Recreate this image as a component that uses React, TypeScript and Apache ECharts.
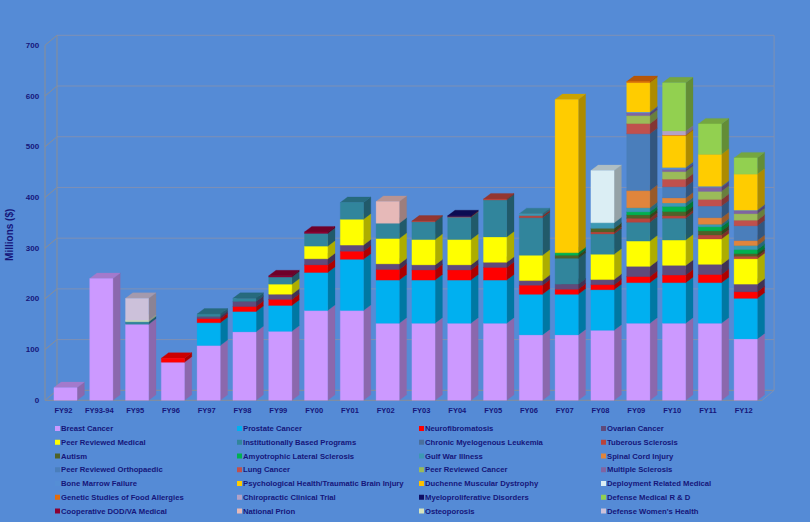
import React, { useEffect, useRef } from "react";
import * as echarts from "echarts";

const categories = ["FY92","FY93-94","FY95","FY96","FY97","FY98","FY99","FY00","FY01","FY02","FY03","FY04","FY05","FY06","FY07","FY08","FY09","FY10","FY11","FY12"];
const yTicks = [0,100,200,300,400,500,600,700];

const breast =    [25,240,150,75,108,135,136,177,177,152,152,152,152,129,129,138,152,152,152,121];
const prostate =  [0,0,0,0,45,40,51,75,101,85,85,85,85,80,80,80,80,80,80,80];
const neuro =     [0,0,0,8,8,10,12,15,16,21,20,20,25,18,10,10,12,15,16,13];
const ovarian =   [0,0,0,0,4,10,10,12,12,11,10,10,10,9,10,10,20,19,20,15];
const peerMed =   [0,0,0,0,0,0,20,25,51,50,50,50,50,50,0,50,50,50,50,50];
const instit =    [0,0,5,0,5,6,14,25,33,30,35,44,73,74,51,40,37,43,0,0];
const chronic =   [0,0,0,0,0,0,0,0,0,0,0,0,0,0,0,0,0,0,0,0];
const tuberous =  [0,0,0,0,0,0,0,0,0,0,1.5,1.5,2,4,0,4,8,5,8,5];
const autism =    [0,0,0,0,0,0,0,0,0,0,0,0,0,0,6,7,6.5,8,8,5];
const als =       [0,0,0,0,0,0,0,0,0,0,0,0,0,0,5,0,6,10,8,8];
const gulfWar =   [0,0,0,0,0,0,0,0,0,0,0,0,0,4,0,11,8,7,5,8];
const spinal =    [0,0,0,0,0,0,0,0,0,0,0,0,0,0,0,0,34,10,13,10];
const ortho =     [0,0,0,0,0,0,0,0,0,0,0,0,0,0,0,0,112,22,23,29];
const lung =      [0,0,0,0,0,0,0,0,0,0,0,0,0,0,0,0,20,15,13,11];
const peerCancer =[0,0,0,0,0,0,0,0,0,0,0,0,0,0,0,0,16,15,16,13];
const ms =        [0,0,0,0,0,0,0,0,0,0,0,0,0,0,0,0,5,4,8,6];
const boneMarrow =[0,0,0,0,0,0,0,0,0,0,0,0,0,0,0,0,2,4,2,1];
const psych =     [0,0,0,0,0,0,0,0,0,0,0,0,0,0,302,0,58,63,63,71];
const duchenne =  [0,0,0,0,0,0,0,0,0,0,0,0,0,0,0,0,0,0,0,0];
const deployment =[0,0,0,0,0,0,0,0,0,0,0,0,0,0,0,103,0,0,0,0];
const genetic =   [0,0,0,0,0,0,0,0,0,0,0,0,0,0,0,0,2,1,0,0];
const chiro =     [0,0,0,0,0,0,0,0,0,0,0,0,0,0,0,0,0,8,0,0];
const myelo =     [0,0,0,0,0,0,0,0,0,0,0,1.5,0,0,0,0,0,0,0,0];
const defMed =    [0,0,0,0,0,0,0,0,0,0,0,0,0,0,0,0,0,95,60,32];
const coop =      [0,0,0,0,0,0,2.5,3,0,0,0,0,0,0,0,0,0,0,0,0];
const prion =     [0,0,0,0,0,0,0,0,0,43,0,0,0,0,0,0,0,0,0,0];
const osteo =     [0,0,3,0,0,0,0,0,0,0,0,0,0,0,0,0,0,0,0,0];
const women =     [0,0,43,0,0,0,0,0,0,0,0,0,0,0,0,0,0,0,0,0];

const seriesDefs: [string, number[], string][] = [
  ["Breast Cancer", breast, "#cc99ff"],
  ["Prostate Cancer", prostate, "#00b0f0"],
  ["Neurofibromatosis", neuro, "#ff0000"],
  ["Ovarian Cancer", ovarian, "#604a7b"],
  ["Peer Reviewed Medical", peerMed, "#ffff00"],
  ["Institutionally Based Programs", instit, "#31859c"],
  ["Chronic Myelogenous Leukemia", chronic, "#4a6f9c"],
  ["Tuberous Sclerosis", tuberous, "#b8443c"],
  ["Autism", autism, "#4f6228"],
  ["Amyotrophic Lateral Sclerosis", als, "#00b050"],
  ["Gulf War Illness", gulfWar, "#3d98b4"],
  ["Spinal Cord Injury", spinal, "#e0853c"],
  ["Peer Reviewed Orthopaedic", ortho, "#4a7ebb"],
  ["Lung Cancer", lung, "#c0504d"],
  ["Peer Reviewed Cancer", peerCancer, "#9bbb59"],
  ["Multiple Sclerosis", ms, "#8064a2"],
  ["Bone Marrow Failure", boneMarrow, "#558ed5"],
  ["Psychological Health/Traumatic Brain Injury", psych, "#ffcc00"],
  ["Duchenne Muscular Dystrophy", duchenne, "#ffc000"],
  ["Deployment Related Medical", deployment, "#dbeef4"],
  ["Genetic Studies of Food Allergies", genetic, "#e46c0a"],
  ["Chiropractic Clinical Trial", chiro, "#b3a2c7"],
  ["Myeloproliferative Disorders", myelo, "#0f0f66"],
  ["Defense Medical R & D", defMed, "#92d050"],
  ["Cooperative DOD/VA Medical", coop, "#8b0033"],
  ["National Prion", prion, "#e6b9b8"],
  ["Osteoporosis", osteo, "#d7e4bd"],
  ["Defense Women's Health", women, "#ccc1da"],
];

const shade = (hex: string, f: number) => {
  const n = parseInt(hex.slice(1), 16);
  const c = [(n >> 16) & 255, (n >> 8) & 255, n & 255].map((v) => Math.round(v * f));
  return `rgb(${c[0]},${c[1]},${c[2]})`;
};

const TEXT = "#16167a";
const FONT = "'Liberation Sans', Arial, sans-serif";
const BAR_W = 23.2, DX = 7.3, DY = 5.5;
const WALL_DX = 12, WALL_DY = 10;
const LINE = "#8b8e94";

const renderBar = (color: string) => (_p: any, api: any) => {
  const lo = api.value(1), hi = api.value(2);
  if (hi <= lo) return null;
  const [xc, y0] = api.coord([api.value(0), lo]);
  const [, y1] = api.coord([api.value(0), hi]);
  const l = xc - BAR_W / 2, r = xc + BAR_W / 2;
  const poly = (points: number[][], fill: string) => ({
    type: "polygon", shape: { points }, style: { fill, stroke: fill, lineWidth: 0.3 },
  });
  return {
    type: "group",
    children: [
      poly([[r, y0], [r + DX, y0 - DY], [r + DX, y1 - DY], [r, y1]], shade(color, 0.68)),
      poly([[l, y1], [r, y1], [r + DX, y1 - DY], [l + DX, y1 - DY]], shade(color, 0.8)),
      poly([[l, y0], [r, y0], [r, y1], [l, y1]], color),
    ],
  };
};

const renderWall = (params: any, api: any) => {
  const [, y] = api.coord([0, api.value(0)]);
  const size = api.size([1, 0]);
  const xL = api.coord([0, 0])[0] - size[0] / 2 - 2.6;
  const xR = api.coord([categories.length - 1, 0])[0] + size[0] / 2 - 1.5;
  const line = (x1: number, y1: number, x2: number, y2: number, stroke = LINE) => ({
    type: "line", shape: { x1, y1, x2, y2 }, style: { stroke, lineWidth: 1 },
  });
  const [, yTop] = api.coord([0, 700]);
  const [, yBase] = api.coord([0, 0]);
  const children: any[] = [
    line(xL, y, xL + WALL_DX, y - WALL_DY),
    line(xL + WALL_DX, y - WALL_DY, xR + WALL_DX, y - WALL_DY, api.value(0) > 0 ? "#7f90b4" : LINE),
  ];
  if (params.dataIndex === 0) {
    children.push(
      line(xL, yBase, xL, yTop),
      line(xL + WALL_DX, yBase - WALL_DY, xL + WALL_DX, yTop - WALL_DY),
      line(xR + WALL_DX, yBase - WALL_DY, xR + WALL_DX, yTop - WALL_DY, "#7f90b4"),
      line(xL, yBase, xR, yBase),
      line(xR, yBase, xR + WALL_DX, yBase - WALL_DY, "#7f90b4"),
    );
  }
  return { type: "group", children };
};

const legendColumnX = [55, 237, 419, 601];
const LEGEND_TOP = 424.5;

export default function App() {
  const ref = useRef<HTMLDivElement>(null);
  useEffect(() => {
    const chart = echarts.init(ref.current!, null, { renderer: "svg" });
    const running = categories.map(() => 0);
    const barSeries = seriesDefs.map(([name, values, color]) => {
      const data = values.map((v, i) => {
        const lo = running[i];
        running[i] = lo + v;
        return [i, lo, lo + v];
      });
      return {
        name, type: "custom", coordinateSystem: "cartesian2d",
        itemStyle: { color },
        encode: { x: 0, y: [1, 2] },
        renderItem: renderBar(color),
        data, z: 3, silent: true,
      };
    });
    chart.setOption({
      animation: false,
      backgroundColor: "#558bd6",
      tooltip: { show: false },
      grid: { left: 47.6, top: 45.3, width: 716, height: 355, containLabel: false, outerBoundsMode: "none" },
      xAxis: {
        type: "category", data: categories,
        axisLine: { show: false }, axisTick: { show: false }, splitLine: { show: false },
        axisLabel: { interval: 0, color: TEXT, fontSize: 7.5, fontFamily: FONT, fontWeight: "bold", margin: 6, padding: [0, 4, 0, 0] },
      },
      yAxis: {
        type: "value", min: 0, max: 700, interval: 100,
        name: "Millions ($)", nameLocation: "middle", nameGap: 28,
        nameTextStyle: { color: TEXT, fontSize: 10, fontWeight: "bold", fontFamily: FONT, padding: [0, 24, 0, 0] },
        axisLine: { show: false }, axisTick: { show: false }, splitLine: { show: false },
        axisLabel: { color: TEXT, fontSize: 8, fontFamily: FONT, fontWeight: "bold", margin: 8.5, padding: [2, 0, 0, 0] },
      },
      legend: legendColumnX.map((left, c) => ({
        left, top: LEGEND_TOP, padding: 0, orient: "vertical", selectedMode: false,
        icon: "rect", itemWidth: 5, itemHeight: 5, itemGap: 5.75,
        textStyle: { color: TEXT, fontSize: 7.7, fontWeight: "bold", fontFamily: FONT, padding: [0, 0, 0, -4] },
        data: seriesDefs.filter((_, i) => i % 4 === c).map((d) => d[0]),
      })),
      series: [
        {
          type: "custom", coordinateSystem: "cartesian2d", silent: true, z: 1,
          encode: { y: 0 }, renderItem: renderWall,
          data: yTicks.map((t) => [t]),
        },
        ...barSeries,
      ],
    });
    return () => chart.dispose();
  }, []);
  return <div ref={ref} style={{ position: "absolute", left: 0, top: 0, width: 810, height: 522 }} />;
}
